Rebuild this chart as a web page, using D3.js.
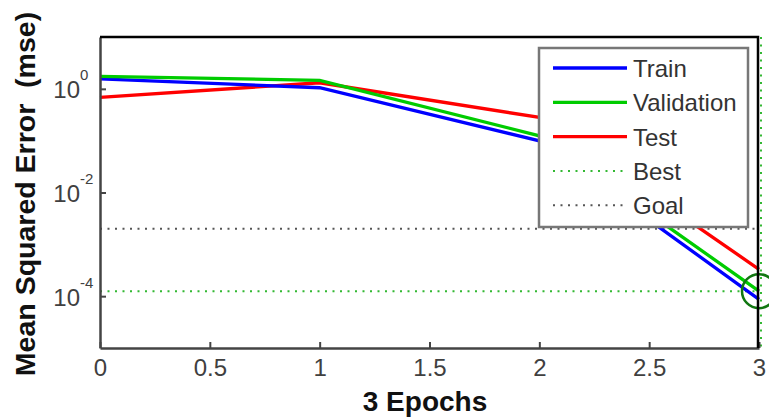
<!DOCTYPE html>
<html>
<head>
<meta charset="utf-8">
<script src="https://cdn.jsdelivr.net/npm/d3@7"></script>
<style>
  body { margin: 0; background: #fff; }
  svg { font-family: Arial, "Liberation Sans", sans-serif; }
</style>
</head>
<body>
<div id="chart"></div>
<script>
// performance per epoch
const epochs = [0, 1, 2, 3];
const trainMse = [1.56, 1.05, 0.099, 8.7e-5];
const validationMse = [1.74, 1.46, 0.124, 1.25e-4];
const testMse = [0.685, 1.31, 0.281, 3.3e-4];
const bestEpoch = 3;
const bestMse = 1.25e-4;
const goalMse = 0.002;

const xTicks = [0, 0.5, 1, 1.5, 2, 2.5, 3];
const yTicks = [1, 1e-2, 1e-4];
const yTickExp = ["0", "-2", "-4"];

const legendNames = ["Train", "Validation", "Test", "Best", "Goal"];

const width = 769;
const height = 420;
const plotLeft = 100, plotRight = 759, plotTop = 37, plotBottom = 348;

const x = d3.scaleLinear().domain([0, 3]).range([plotLeft, plotRight]);
const y = d3.scaleLog().domain([1e-5, 10]).range([plotBottom, plotTop]);

const svg = d3.select("#chart")
    .append("svg")
    .attr("width", width)
    .attr("height", height);

// goal and best lines
svg.append("line")
    .attr("x1", x(0)).attr("x2", x(3))
    .attr("y1", y(goalMse)).attr("y2", y(goalMse))
    .attr("stroke", "#555").attr("stroke-width", 2)
    .attr("stroke-dasharray", "2,5.5");

svg.append("line")
    .attr("x1", x(0)).attr("x2", x(3))
    .attr("y1", y(bestMse)).attr("y2", y(bestMse))
    .attr("stroke", "#33b833").attr("stroke-width", 2)
    .attr("stroke-dasharray", "2,5.5");

svg.append("line")
    .attr("x1", x(bestEpoch) + 2).attr("x2", x(bestEpoch) + 2)
    .attr("y1", plotTop).attr("y2", plotBottom)
    .attr("stroke", "#33b833").attr("stroke-width", 2)
    .attr("stroke-dasharray", "2,5.5");

// series
const line = d3.line()
    .x((d, i) => x(epochs[i]))
    .y(d => y(d));

const series = [
    { values: trainMse, color: "#0000ff" },
    { values: validationMse, color: "#00cc00" },
    { values: testMse, color: "#ff0000" }
];

// draw test first so train/validation sit on top like the picture
[series[2], series[0], series[1]].forEach(s => {
    svg.append("path")
        .attr("d", line(s.values))
        .attr("fill", "none")
        .attr("stroke", s.color)
        .attr("stroke-width", 3.3);
});

// best marker
svg.append("circle")
    .attr("cx", x(bestEpoch))
    .attr("cy", y(bestMse))
    .attr("r", 17)
    .attr("fill", "none")
    .attr("stroke", "#117711")
    .attr("stroke-width", 2.5);

// axes
const xAxis = svg.append("g")
    .attr("transform", `translate(0,${plotBottom})`)
    .call(d3.axisBottom(x).tickValues(xTicks).tickFormat(d => String(d))
        .tickSizeInner(-6).tickSizeOuter(0).tickPadding(11));

const yAxis = svg.append("g")
    .attr("transform", `translate(${plotLeft},0)`)
    .call(d3.axisLeft(y).tickValues(yTicks).tickFormat(() => "")
        .tickSizeInner(-6).tickSizeOuter(0));

[xAxis, yAxis].forEach(g => {
    g.select(".domain").attr("stroke", "#444").attr("stroke-width", 2.5);
    g.selectAll(".tick line").attr("stroke", "#444").attr("stroke-width", 2);
});

xAxis.selectAll(".tick text")
    .attr("font-size", 24)
    .attr("fill", "#404040");

yAxis.selectAll(".tick").each(function(d, i) {
    const t = d3.select(this);
    t.append("text")
        .attr("x", -20).attr("y", 9)
        .attr("text-anchor", "end")
        .attr("font-size", 24)
        .attr("fill", "#404040")
        .text("10");
    t.append("text")
        .attr("x", -20).attr("y", -9)
        .attr("text-anchor", "start")
        .attr("font-size", 15)
        .attr("fill", "#404040")
        .text(yTickExp[i]);
});

// top and right border
svg.append("path")
    .attr("d", `M${plotLeft},${plotTop}H${plotRight - 1}V${plotBottom}`)
    .attr("fill", "none")
    .attr("stroke", "#000")
    .attr("stroke-width", 2.5);

// axis titles
svg.append("text")
    .attr("transform", "translate(35,194) rotate(-90)")
    .attr("text-anchor", "middle")
    .attr("font-size", 28.5)
    .attr("font-weight", "bold")
    .attr("fill", "#111")
    .style("white-space", "pre")
    .text("Mean Squared Error  (mse)");

svg.append("text")
    .attr("x", 425).attr("y", 411)
    .attr("text-anchor", "middle")
    .attr("font-size", 28)
    .attr("font-weight", "bold")
    .attr("fill", "#111")
    .text("3 Epochs");

// legend
const legend = svg.append("g").attr("transform", "translate(539,48)");
legend.append("rect")
    .attr("width", 209).attr("height", 179)
    .attr("fill", "#fff")
    .attr("stroke", "#777")
    .attr("stroke-width", 2.5);

const legendStyle = [
    { color: "#0000ff", dash: null, w: 3.3 },
    { color: "#00cc00", dash: null, w: 3.3 },
    { color: "#ff0000", dash: null, w: 3.3 },
    { color: "#33b833", dash: "2,5.5", w: 2 },
    { color: "#555", dash: "2,5.5", w: 2 }
];

legendNames.forEach((name, i) => {
    const yy = 20 + i * 34.3;
    legend.append("line")
        .attr("x1", 14).attr("x2", 88)
        .attr("y1", yy).attr("y2", yy)
        .attr("stroke", legendStyle[i].color)
        .attr("stroke-width", legendStyle[i].w)
        .attr("stroke-dasharray", legendStyle[i].dash);
    legend.append("text")
        .attr("x", 94).attr("y", yy + 9)
        .attr("font-size", 24)
        .attr("fill", "#333")
        .text(name);
});
</script>
</body>
</html>
